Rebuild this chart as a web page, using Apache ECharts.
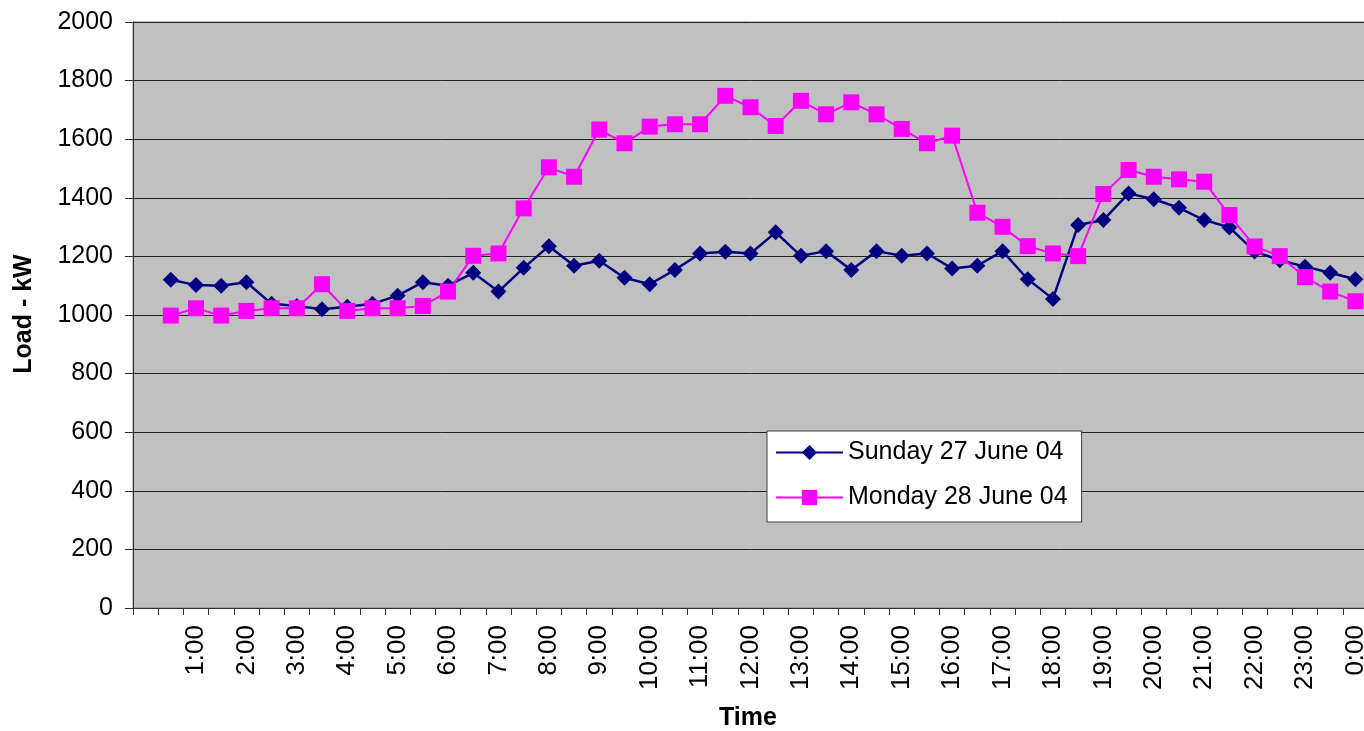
<!DOCTYPE html>
<html>
<head>
<meta charset="utf-8">
<title>Load - kW</title>
<script src="https://cdn.jsdelivr.net/npm/echarts@6/dist/echarts.min.js"></script>
<style>
  html, body { margin: 0; padding: 0; background: #ffffff; overflow: hidden; }
  /* the plot runs slightly past the right edge of the window */
  #chart { width: 1370px; height: 731px; }
</style>
</head>
<body>
<div id="chart"></div>
<script>
// Half-hourly time slots; the first slot is left empty.
const times = ['', '0:30',
  '1:00', '1:30', '2:00', '2:30', '3:00', '3:30', '4:00', '4:30',
  '5:00', '5:30', '6:00', '6:30', '7:00', '7:30', '8:00', '8:30',
  '9:00', '9:30', '10:00', '10:30', '11:00', '11:30', '12:00', '12:30',
  '13:00', '13:30', '14:00', '14:30', '15:00', '15:30', '16:00', '16:30',
  '17:00', '17:30', '18:00', '18:30', '19:00', '19:30', '20:00', '20:30',
  '21:00', '21:30', '22:00', '22:30', '23:00', '23:30', '0:00'];

// Load in kW
const sundayLoad = [null,
  1120, 1102, 1100, 1112, 1038, 1031, 1020, 1028, 1038, 1066, 1112, 1100,
  1144, 1080, 1161, 1235, 1168, 1185, 1127, 1105, 1154, 1210, 1216, 1210,
  1282, 1202, 1218, 1154, 1218, 1202, 1210, 1159, 1168, 1218, 1122, 1055,
  1307, 1324, 1415, 1395, 1366, 1324, 1299, 1217, 1187, 1165, 1144, 1122];

const mondayLoad = [null,
  998, 1023, 998, 1014, 1023, 1023, 1105, 1014, 1023, 1023, 1031, 1080,
  1202, 1210, 1364, 1504, 1472, 1633, 1586, 1643, 1651, 1651, 1748, 1709,
  1645, 1731, 1685, 1726, 1685, 1635, 1586, 1612, 1349, 1301, 1235, 1210,
  1201, 1413, 1495, 1472, 1463, 1455, 1341, 1234, 1201, 1129, 1080, 1047];

const seriesNames = ['Sunday 27 June 04', 'Monday 28 June 04'];
const yTitle = 'Load - kW';
const xTitle = 'Time';

const FONT = "'Liberation Sans', Arial, sans-serif";

const chart = echarts.init(document.getElementById('chart'), null, { renderer: 'canvas' });

chart.setOption({
  animation: false,
  backgroundColor: '#ffffff',
  textStyle: { fontFamily: FONT },
  grid: {
    left: 133, top: 22, width: 1235, height: 586,
    show: true, backgroundColor: '#c0c0c0',
    borderColor: '#808080', borderWidth: 1
  },
  legend: {
    orient: 'vertical',
    left: 767, top: 431,
    padding: [9, 14, 12, 8],
    itemGap: 20,
    itemWidth: 67, itemHeight: 19,
    backgroundColor: '#ffffff',
    borderColor: '#404040', borderWidth: 1,
    selectedMode: false,
    textStyle: { fontSize: 25, color: '#000', fontFamily: FONT },
    data: seriesNames
  },
  xAxis: {
    type: 'category',
    data: times,
    boundaryGap: true,
    axisLine: { lineStyle: { color: '#333', width: 1 } },
    axisTick: { show: true, interval: 0, length: 7, lineStyle: { color: '#333' } },
    axisLabel: {
      rotate: 90,
      margin: 17,
      fontSize: 26,
      color: '#000',
      fontFamily: FONT,
      interval: function (index, value) { return index % 2 === 0 && value !== ''; }
    },
    splitLine: { show: false }
  },
  yAxis: {
    type: 'value',
    min: 0, max: 2000, interval: 200,
    axisLine: { show: true, lineStyle: { color: '#333', width: 1 } },
    axisTick: { show: true, length: 8, lineStyle: { color: '#333' } },
    axisLabel: {
      margin: 20, fontSize: 25, color: '#000', fontFamily: FONT,
      formatter: function (v) { return String(v); }
    },
    splitLine: { show: true, lineStyle: { color: '#222', width: 1 } }
  },
  graphic: [
    {
      type: 'text', x: 24, y: 314, rotation: Math.PI / 2,
      style: {
        text: yTitle, fontSize: 25, fontWeight: 'bold', fontFamily: FONT,
        fill: '#000', align: 'center', verticalAlign: 'middle'
      }
    },
    {
      type: 'text', x: 748, y: 718,
      style: {
        text: xTitle, fontSize: 25, fontWeight: 'bold', fontFamily: FONT,
        fill: '#000', align: 'center', verticalAlign: 'middle'
      }
    }
  ],
  series: [
    {
      name: seriesNames[0],
      type: 'line',
      data: sundayLoad,
      symbol: 'diamond',
      symbolSize: 16,
      showAllSymbol: true,
      color: '#000080',
      lineStyle: { color: '#000080', width: 2.5 },
      itemStyle: { color: '#000080' }
    },
    {
      name: seriesNames[1],
      type: 'line',
      data: mondayLoad,
      symbol: 'rect',
      symbolSize: 16,
      showAllSymbol: true,
      color: '#ff00ff',
      lineStyle: { color: '#ff00ff', width: 2 },
      itemStyle: { color: '#ff00ff' }
    }
  ]
});
</script>
</body>
</html>
